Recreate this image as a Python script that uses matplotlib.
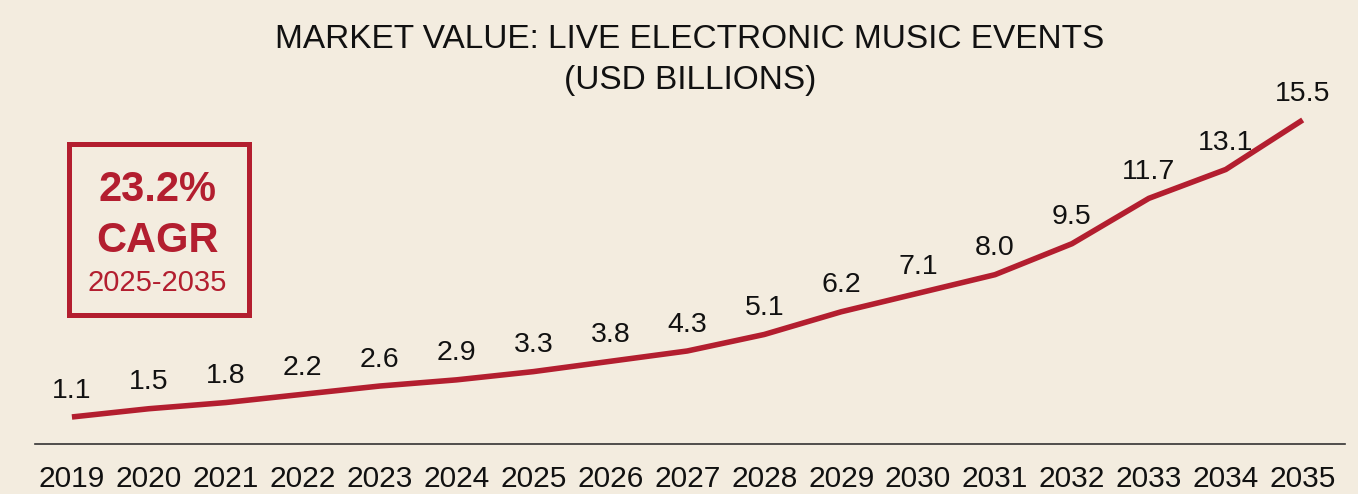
import numpy as np
import matplotlib.pyplot as plt
from matplotlib.patches import Rectangle

years = [2019, 2020, 2021, 2022, 2023, 2024, 2025, 2026, 2027,
         2028, 2029, 2030, 2031, 2032, 2033, 2034, 2035]
values = [1.1, 1.5, 1.8, 2.2, 2.6, 2.9, 3.3, 3.8, 4.3,
          5.1, 6.2, 7.1, 8.0, 9.5, 11.7, 13.1, 15.5]
value_labels = ["%.1f" % v for v in values]

title_lines = ["MARKET VALUE: LIVE ELECTRONIC MUSIC EVENTS", "(USD BILLIONS)"]
cagr_lines = ["23.2%", "CAGR", "2025-2035"]

bg = "#F3ECDF"
red = "#B31E2F"
W, H = 1358, 494

fig = plt.figure(figsize=(W/100, H/100), dpi=100, facecolor=bg)
ax = fig.add_axes([35/W, 50/H, 1310/W, 1 - 50/H])
ax.set_facecolor("none")

ax.plot(years, values, color=red, lw=4, solid_capstyle="butt", solid_joinstyle="round")
for x, v, s in zip(years, values, value_labels):
    ax.annotate(s, (x, v), xytext=(0, 19), textcoords="offset points",
                ha="center", va="center", fontsize=20.5, color="#111111",
                family="Liberation Sans")

px_per_unit = 20.625
ax.set_xlim(2018.52, 2035.55)
ax.set_ylim(-0.21, -0.21 + 444/px_per_unit)
ax.set_xticks(years)
ax.set_xticklabels([str(y) for y in years], fontsize=21.5, family="Liberation Sans", color="#111111")
ax.tick_params(axis="x", length=0, pad=15)
ax.set_yticks([])
for side in ["top", "right", "left"]:
    ax.spines[side].set_visible(False)
ax.spines["bottom"].set_color("#333333")
ax.spines["bottom"].set_linewidth(1.2)

# title, two lines
fig.text(690/W, 1 - 39/H, title_lines[0], ha="center", va="center", fontsize=24,
         family="Liberation Sans", color="#111111")
fig.text(690/W, 1 - 80/H, title_lines[1], ha="center", va="center", fontsize=24,
         family="Liberation Sans", color="#111111")

# CAGR callout box
fig.patches.append(Rectangle((69/W, 1 - 315/H), 180/W, 171/H, transform=fig.transFigure,
                             fill=False, edgecolor=red, lw=3.6, figure=fig))
fig.text(157/W, 1 - 190/H, cagr_lines[0], ha="center", va="center", fontsize=30,
         fontweight="bold", family="Liberation Sans", color=red)
fig.text(157/W, 1 - 241/H, cagr_lines[1], ha="center", va="center", fontsize=30,
         fontweight="bold", family="Liberation Sans", color=red)
fig.text(157/W, 1 - 283/H, cagr_lines[2], ha="center", va="center", fontsize=21,
         family="Liberation Sans", color=red)

fig.savefig("out.png", dpi=100, facecolor=bg)
